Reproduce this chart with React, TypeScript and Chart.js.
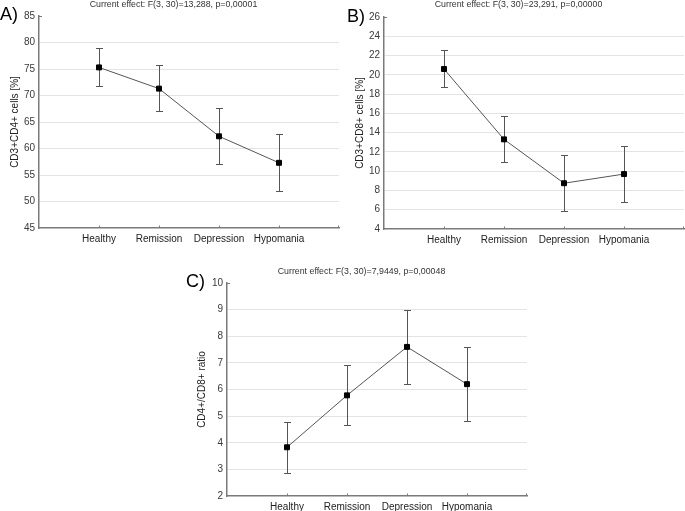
import React, { useEffect, useRef } from 'react';
import { Chart, registerables } from 'chart.js';

Chart.register(...registerables);

const FONT = '"Liberation Sans", Arial, Helvetica, sans-serif';
Chart.defaults.font.family = FONT;

// ---------- data ----------
const categories = ['Healthy', 'Remission', 'Depression', 'Hypomania'];

const cd4Mean = [75.3, 71.3, 62.3, 57.3];
const cd4Upper = [79.0, 75.8, 67.7, 62.7];
const cd4Lower = [71.7, 67.1, 57.0, 51.9];

const cd8Mean = [20.6, 13.3, 8.75, 9.7];
const cd8Upper = [22.6, 15.7, 11.65, 12.6];
const cd8Lower = [18.7, 11.0, 5.9, 6.85];

const ratioMean = [3.83, 5.78, 7.6, 6.2];
const ratioUpper = [4.78, 6.92, 9.0, 7.6];
const ratioLower = [2.88, 4.65, 6.22, 4.82];

const titleA = 'Current effect: F(3, 30)=13,288, p=0,00001';
const titleB = 'Current effect: F(3, 30)=23,291, p=0,00000';
const titleC = 'Current effect: F(3, 30)=7,9449, p=0,00048';

const yTitleA = 'CD3+CD4+ cells [%]';
const yTitleB = 'CD3+CD8+ cells [%]';
const yTitleC = 'CD4+/CD8+ ratio';

const yTicksA = [45, 85, 5];
const yTicksB = [4, 26, 2];
const yTicksC = [2, 10, 1];

// ---------- panel component ----------
type PanelProps = {
  left: number; top: number; width: number; height: number;
  padL: number; padR: number; yWidth: number; xHeight: number;
  titlePadBottom: number; yTitlePad: number;
  letter: string; letterX: number; letterY: number;
  title: string; yTitle: string;
  mean: number[]; lower: number[]; upper: number[];
  yRange: number[];
};

function Panel(p: PanelProps) {
  const ref = useRef<HTMLCanvasElement | null>(null);
  useEffect(() => {
    if (!ref.current) return;
    const [yMin, yMax, yStep] = p.yRange;
    const axisColor = '#7a7a7a';

    const decor = {
      id: 'decor',
      beforeDatasetsDraw(chart: any) {
        const { ctx, scales } = chart;
        const x = scales.x, y = scales.y;
        const ds: any = chart.data.datasets[0];
        const lo: number[] = ds.errLower;
        const hi: number[] = ds.errUpper;
        ctx.save();
        ctx.strokeStyle = '#555';
        ctx.lineWidth = 1;
        lo.forEach((l, i) => {
          const px = Math.round(x.getPixelForValue(i + 1)) + 0.5;
          const yl = Math.round(y.getPixelForValue(l)) + 0.5;
          const yu = Math.round(y.getPixelForValue(hi[i])) + 0.5;
          ctx.beginPath();
          ctx.moveTo(px, yl); ctx.lineTo(px, yu);
          ctx.moveTo(px - 3.5, yl); ctx.lineTo(px + 3.5, yl);
          ctx.moveTo(px - 3.5, yu); ctx.lineTo(px + 3.5, yu);
          ctx.stroke();
        });
        ctx.restore();
      },
      afterDraw(chart: any) {
        const { ctx, chartArea, scales } = chart;
        const x = scales.x;
        ctx.save();
        ctx.strokeStyle = axisColor;
        ctx.lineWidth = 1;
        ctx.beginPath();
        categories.forEach((_, i) => {
          const px = Math.round(x.getPixelForValue(i + 1)) + 0.5;
          ctx.moveTo(px, chartArea.bottom); ctx.lineTo(px, chartArea.bottom - 2.5);
        });
        ctx.moveTo(chartArea.right - 0.5, chartArea.bottom); ctx.lineTo(chartArea.right - 0.5, chartArea.bottom - 2.5);
        ctx.moveTo(chartArea.left, chartArea.top + 0.5); ctx.lineTo(chartArea.left + 3, chartArea.top + 0.5);
        ctx.stroke();
        ctx.fillStyle = '#000';
        ctx.font = '18px ' + FONT;
        ctx.textAlign = 'left';
        ctx.textBaseline = 'middle';
        ctx.fillText(p.letter, p.letterX, p.letterY);
        ctx.restore();
      },
    };

    const chart = new Chart(ref.current, {
      type: 'line',
      data: {
        datasets: [{
          data: p.mean.map((v, i) => ({ x: i + 1, y: v })),
          borderColor: '#555',
          borderWidth: 1,
          pointStyle: 'rect',
          pointRadius: 3.5,
          pointBackgroundColor: '#000',
          pointBorderColor: '#000',
          pointBorderWidth: 1,
          fill: false,
          tension: 0,
          errLower: p.lower,
          errUpper: p.upper,
        } as any],
      },
      options: {
        animation: false,
        responsive: false,
        devicePixelRatio: 1,
        layout: { padding: { left: p.padL, right: p.padR, top: 0, bottom: 0 } },
        plugins: {
          legend: { display: false },
          tooltip: { enabled: false },
          title: {
            display: true,
            text: p.title,
            color: '#333',
            font: { size: 8.8, lineHeight: 1, weight: 'normal' },
            padding: { top: 0, bottom: p.titlePadBottom },
          },
        },
        scales: {
          x: {
            type: 'linear',
            min: 0,
            max: 5,
            afterBuildTicks: (s: any) => { s.ticks = categories.map((_, i) => ({ value: i + 1 })); },
            afterFit: (s: any) => { s.height = p.xHeight; },
            grid: { display: false, drawTicks: false },
            border: { display: true, color: axisColor, width: 1.5 },
            ticks: {
              autoSkip: false,
              maxRotation: 0,
              padding: 5,
              color: '#222',
              font: { size: 10 },
              callback: (v: any) => categories[Number(v) - 1] ?? '',
            },
          },
          y: {
            min: yMin,
            max: yMax,
            afterFit: (s: any) => { s.width = p.yWidth; },
            ticks: { stepSize: yStep, padding: 4, color: '#3a3a3a', font: { size: 10 } },
            grid: {
              drawTicks: false,
              color: (c: any) => (c.tick && (c.tick.value === yMin || c.tick.value === yMax)) ? 'rgba(0,0,0,0)' : '#e4e4e4',
              lineWidth: 1,
            },
            border: { display: true, color: axisColor, width: 1.5 },
            title: {
              display: true,
              text: p.yTitle,
              color: '#222',
              font: { size: 10, lineHeight: 1.2 },
              padding: { top: p.yTitlePad, bottom: 0 },
            },
          },
        },
      } as any,
      plugins: [decor],
    });
    return () => chart.destroy();
  }, []);
  return (
    <canvas
      ref={ref}
      width={p.width}
      height={p.height}
      style={{ position: 'absolute', left: p.left, top: p.top, width: p.width, height: p.height }}
    />
  );
}

export default function App() {
  return (
    <div style={{ position: 'absolute', left: 0, top: 0, width: 685, height: 511, overflow: 'hidden', background: '#fff' }}>
      <Panel left={0} top={0} width={346} height={250} padL={8} padR={7} yWidth={31} xHeight={22}
        titlePadBottom={7.2} yTitlePad={1} letter="A)" letterX={0} letterY={15.5}
        title={titleA} yTitle={yTitleA} mean={cd4Mean} lower={cd4Lower} upper={cd4Upper} yRange={yTicksA} />
      <Panel left={345} top={0} width={350} height={250} padL={8} padR={11} yWidth={31} xHeight={21}
        titlePadBottom={8.2} yTitlePad={1.7} letter="B)" letterX={2} letterY={17}
        title={titleB} yTitle={yTitleB} mean={cd8Mean} lower={cd8Lower} upper={cd8Upper} yRange={yTicksB} />
      <Panel left={180} top={267} width={368} height={244} padL={16} padR={21} yWidth={31} xHeight={15}
        titlePadBottom={7.2} yTitlePad={0} letter="C)" letterX={6} letterY={15}
        title={titleC} yTitle={yTitleC} mean={ratioMean} lower={ratioLower} upper={ratioUpper} yRange={yTicksC} />
    </div>
  );
}
